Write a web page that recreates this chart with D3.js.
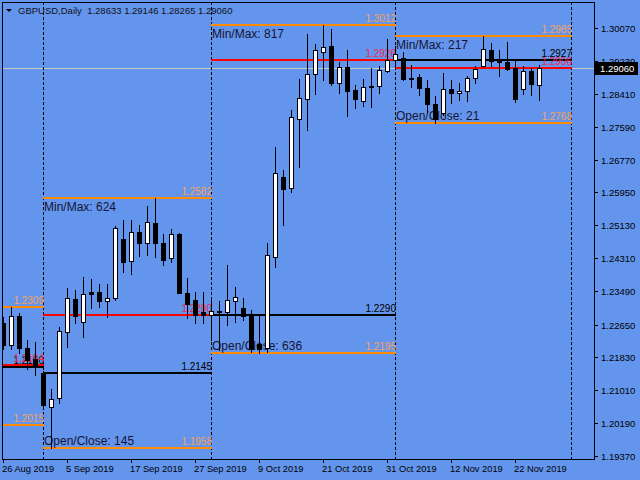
<!DOCTYPE html>
<html><head><meta charset="utf-8">
<script src="https://cdn.jsdelivr.net/npm/d3@7"></script>
<style>html,body{margin:0;padding:0;background:#6495ED;}svg{display:block;}</style>
</head><body>
<script>
// ---------- DATA ----------
const symbolTitle = "GBPUSD,Daily";
const dates = ["2019-08-26","2019-08-27","2019-08-28","2019-08-29","2019-08-30",
"2019-09-02","2019-09-03","2019-09-04","2019-09-05","2019-09-06","2019-09-09","2019-09-10","2019-09-11","2019-09-12","2019-09-13",
"2019-09-16","2019-09-17","2019-09-18","2019-09-19","2019-09-20","2019-09-23","2019-09-24","2019-09-25","2019-09-26","2019-09-27","2019-09-30",
"2019-10-01","2019-10-02","2019-10-03","2019-10-04","2019-10-07","2019-10-08","2019-10-09","2019-10-10","2019-10-11","2019-10-14","2019-10-15",
"2019-10-16","2019-10-17","2019-10-18","2019-10-21","2019-10-22","2019-10-23","2019-10-24","2019-10-25","2019-10-28","2019-10-29","2019-10-30","2019-10-31",
"2019-11-01","2019-11-04","2019-11-05","2019-11-06","2019-11-07","2019-11-08","2019-11-11","2019-11-12","2019-11-13","2019-11-14","2019-11-15",
"2019-11-18","2019-11-19","2019-11-20","2019-11-21","2019-11-22","2019-11-25","2019-11-26","2019-11-27"];
const open  = [1.2269,1.2215,1.2287,1.2207,1.2180, 1.2145,1.2060,1.2082,1.2247,1.2329,1.2272,1.2346,1.2347,1.2324,1.2331,
1.2479,1.2424,1.2497,1.2469,1.2519,1.2469,1.2432,1.2492,1.2344,1.2327,1.2297,
1.2290,1.2299,1.2297,1.2324,1.2307,1.2289,1.2217,1.2206,1.2434,1.2634,1.2606,
1.2779,1.2829,1.2891,1.2946,1.2961,1.2868,1.2908,1.2851,1.2824,1.2859,1.2861,1.2898,
1.2927,1.2931,1.2882,1.2883,1.2856,1.2816,1.2794,1.2853,1.2843,1.2848,1.2881,
1.2911,1.2951,1.2923,1.2922,1.2906,1.2853,1.2898,1.28633];
const high  = [1.2285,1.2309,1.2294,1.2227,1.2222, 1.2150,1.2105,1.2259,1.2357,1.2352,1.2384,1.2379,1.2367,1.2367,1.2512,
1.2526,1.2526,1.2514,1.2561,1.2582,1.2492,1.2504,1.2494,1.2382,1.2347,1.2347,
1.2330,1.2324,1.2414,1.2359,1.2331,1.2302,1.2289,1.2469,1.2709,1.2651,1.2801,
1.2878,1.2991,1.2966,1.3012,1.3003,1.2921,1.2951,1.2863,1.2878,1.2906,1.2911,1.2978,
1.2960,1.2946,1.2913,1.2891,1.2876,1.2836,1.2893,1.2876,1.2868,1.2886,1.2911,
1.2985,1.2968,1.2951,1.2971,1.2928,1.2911,1.2906,1.29146];
const low   = [1.2205,1.2205,1.2195,1.2155,1.2140, 1.2060,1.1958,1.2070,1.2209,1.2269,1.2234,1.2307,1.2309,1.2284,1.2327,
1.2397,1.2392,1.2437,1.2439,1.2434,1.2414,1.2422,1.2343,1.2282,1.2269,1.2269,
1.2227,1.2202,1.2264,1.2272,1.2276,1.2196,1.2195,1.2197,1.2409,1.2514,1.2596,
1.2659,1.2751,1.2841,1.2876,1.2863,1.2843,1.2786,1.2806,1.2811,1.2808,1.2843,1.2896,
1.2905,1.2876,1.2858,1.2838,1.2796,1.2768,1.2789,1.2818,1.2826,1.2824,1.2868,
1.2908,1.2911,1.2886,1.2901,1.2821,1.2841,1.2838,1.28265];
const close = [1.2215,1.2287,1.2207,1.2177,1.2164, 1.2065,1.2080,1.2249,1.2332,1.2287,1.2342,1.2342,1.2324,1.2332,1.2507,
1.2422,1.2497,1.2469,1.2522,1.2469,1.2427,1.2492,1.2344,1.2317,1.2289,1.2290,
1.2299,1.2300,1.2327,1.2334,1.2287,1.2205,1.2205,1.2439,1.2644,1.2604,1.2784,
1.2831,1.2891,1.2951,1.2958,1.2868,1.2908,1.2849,1.2828,1.2858,1.2860,1.2901,1.2926,
1.2941,1.2878,1.2881,1.2856,1.2816,1.2779,1.2853,1.2843,1.2848,1.2881,1.2903,
1.2953,1.2923,1.2922,1.2903,1.2828,1.2898,1.2866,1.29060];

// monthly open/close/high/low levels drawn by the indicator
const monthStart = ["2019-08-01","2019-09-01","2019-10-01","2019-11-01"];
const monthEnd   = ["2019-09-01","2019-10-01","2019-11-01","2019-12-01"];
const monthOpen  = [1.2160, 1.2145, 1.2290, 1.2927];
const monthClose = [1.2164, 1.2290, 1.2926, 1.2906];
const monthHigh  = [1.2309, 1.2582, 1.3012, 1.2985];
const monthLow   = [1.2015, 1.1958, 1.2195, 1.2768];

const priceTicks = ["1.30070","1.29230","1.28410","1.27590","1.26770","1.25950","1.25130","1.24310","1.23490","1.22650","1.21830","1.21010","1.20190","1.19370"];
const dateTicks = ["2019-08-26","2019-09-05","2019-09-17","2019-09-27","2019-10-09","2019-10-21","2019-10-31","2019-11-12","2019-11-22"];

// ---------- CHART ----------
const W = 640, H = 480;
const plot = {left: 2, top: 2, right: 594, bottom: 459};
const font = "'Liberation Sans', Arial, sans-serif";
const C = {bg: "#6495ED", orange: "#FF8C00", orangeText: "#F4A25C", red: "#FF0000", redText: "#F2264E", ink: "#000000", text: "#141432"};

const parse = d3.timeParse("%Y-%m-%d");
const dTimes = dates.map(parse);
const last = dates.length - 1;
function barIndex(s) {
  const t = parse(s);
  if (t < dTimes[0]) return -d3.timeDay.count(t, dTimes[0]);
  if (t > dTimes[last]) return last + d3.timeDay.count(dTimes[last], t);
  return dTimes.findIndex(d => d >= t);
}

const x = d3.scaleLinear().domain([0, 74]).range([3, 3 + 8 * 74]);
const y = d3.scaleLinear().domain([+priceTicks[priceTicks.length - 1], +priceTicks[0]]).range([456, 27.5]);
const px = i => Math.round(x(i));
const py = v => Math.round(y(v));

const svg = d3.select("body").append("svg").attr("width", W).attr("height", H)
  .style("font-family", font);
svg.append("rect").attr("width", W).attr("height", H).attr("fill", C.bg);

svg.append("defs").append("clipPath").attr("id", "clip")
  .append("rect").attr("x", plot.left + 1).attr("y", plot.top + 1)
  .attr("width", plot.right - plot.left - 1).attr("height", plot.bottom - plot.top - 1);
const g = svg.append("g").attr("clip-path", "url(#clip)");

// current price (bid) line
const lastClose = close[last];
g.append("line").attr("x1", plot.left).attr("x2", plot.right)
  .attr("y1", py(lastClose) + 0.5).attr("y2", py(lastClose) + 0.5)
  .attr("stroke", "#C8C8C8").attr("stroke-width", 1);

// month separators
const sepIdx = Array.from(new Set(monthStart.concat(monthEnd))).map(barIndex);
g.selectAll("line.sep").data(sepIdx).join("line").attr("class", "sep")
  .attr("x1", d => px(d) + 0.5).attr("x2", d => px(d) + 0.5)
  .attr("y1", plot.top).attr("y2", plot.bottom)
  .attr("stroke", C.ink).attr("stroke-width", 1).attr("stroke-dasharray", "3,2");

// monthly level objects
const months = monthStart.map((s, k) => ({
  x0: px(barIndex(s)), x1: px(barIndex(monthEnd[k])),
  o: monthOpen[k], c: monthClose[k], h: monthHigh[k], l: monthLow[k]
}));
const fmt = d3.format(".4f");
months.forEach(m => {
  const seg = (v, col) => g.append("line").attr("x1", Math.max(m.x0, plot.left)).attr("x2", m.x1 + 1)
    .attr("y1", py(v)).attr("y2", py(v)).attr("stroke", col).attr("stroke-width", 2);
  const lab = (v, col, dy) => g.append("text").attr("x", m.x1 + 1).attr("y", py(v) + dy)
    .attr("text-anchor", "end").attr("font-size", "10px").attr("fill", col).text(fmt(v));
  seg(m.h, C.orange); seg(m.l, C.orange); seg(m.o, C.ink); seg(m.c, C.red);
  lab(m.h, C.orangeText, -3); lab(m.l, C.orangeText, -3);
  lab(m.o, C.ink, -3); lab(m.c, C.redText, -3);
  if (m.x0 >= plot.left) {
    g.append("text").attr("x", m.x0 + 1).attr("y", py(m.h) + 13).attr("font-size", "12px")
      .attr("fill", C.text).text("Min/Max: " + Math.round((m.h - m.l) * 10000));
    g.append("text").attr("x", m.x0 + 1).attr("y", py(m.l) - 3).attr("font-size", "12px")
      .attr("fill", C.text).text("Open/Close: " + Math.round(Math.abs(m.c - m.o) * 10000));
  }
});

// candles
const bars = dates.map((d, i) => ({i, o: open[i], h: high[i], l: low[i], c: close[i]}));
const cg = g.append("g");
cg.selectAll("line.wick").data(bars).join("line").attr("class", "wick")
  .attr("x1", d => px(d.i) + 0.5).attr("x2", d => px(d.i) + 0.5)
  .attr("y1", d => py(d.h)).attr("y2", d => py(d.l) + 1)
  .attr("stroke", C.ink).attr("stroke-width", 1);
cg.selectAll("rect.body").data(bars).join("rect").attr("class", "body")
  .attr("x", d => px(d.i) - 2 + 0.5)
  .attr("y", d => py(Math.max(d.o, d.c)) + 0.5)
  .attr("width", 4)
  .attr("height", d => Math.max(1, py(Math.min(d.o, d.c)) - py(Math.max(d.o, d.c))))
  .attr("fill", d => d.c > d.o ? "#FFFFFF" : C.ink)
  .attr("stroke", C.ink).attr("stroke-width", 1);

// frame
svg.append("rect").attr("x", plot.left + 0.5).attr("y", plot.top + 0.5)
  .attr("width", plot.right - plot.left).attr("height", plot.bottom - plot.top)
  .attr("fill", "none").attr("stroke", C.ink).attr("stroke-width", 1);

// price axis
const ya = svg.append("g");
priceTicks.forEach(t => {
  const yy = py(+t);
  ya.append("line").attr("x1", plot.right + 1).attr("x2", plot.right + 4)
    .attr("y1", yy + 0.5).attr("y2", yy + 0.5).attr("stroke", C.ink);
  ya.append("text").attr("x", plot.right + 7).attr("y", yy + 3.5)
    .attr("font-size", "9.5px").attr("fill", C.ink).text(t);
});
// current price marker
const yc = py(lastClose);
ya.append("rect").attr("x", plot.right + 1).attr("y", yc - 6).attr("width", 43).attr("height", 13).attr("fill", "#000");
ya.append("text").attr("x", plot.right + 6).attr("y", yc + 4).attr("font-size", "9.5px")
  .attr("fill", "#fff").text(d3.format(".5f")(lastClose));

// date axis
const dfmt = d3.timeFormat("%-d %b %Y");
dateTicks.forEach(s => {
  const xx = px(barIndex(s));
  svg.append("line").attr("x1", xx + 0.5).attr("x2", xx + 0.5)
    .attr("y1", plot.bottom + 1).attr("y2", plot.bottom + 4).attr("stroke", C.ink);
  svg.append("text").attr("x", Math.max(xx - 1, 2)).attr("y", 472).attr("font-size", "9.3px")
    .attr("fill", C.ink).text(dfmt(parse(s)));
});

// header
svg.append("path").attr("d", "M6,9 L12,9 L9,12 Z").attr("fill", "#000");
const f5 = d3.format(".5f");
svg.append("text").attr("x", 18).attr("y", 14).attr("font-size", "9.5px").attr("fill", "#111")
  .attr("xml:space", "preserve")
  .text(symbolTitle + "  " + [open[last], high[last], low[last], close[last]].map(f5).join(" "));
</script>
</body></html>
